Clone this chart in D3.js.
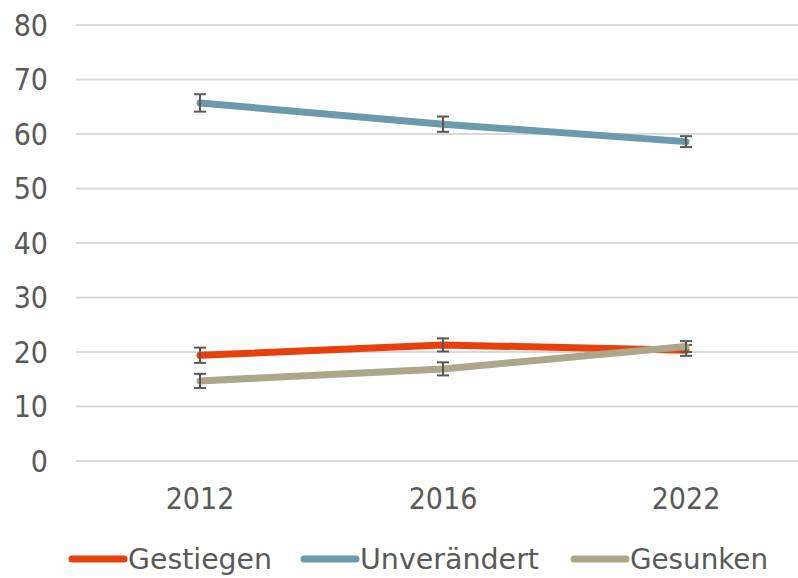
<!DOCTYPE html>
<html>
<head>
<meta charset="utf-8">
<script src="https://cdn.jsdelivr.net/npm/d3@7"></script>
<style>
  body { margin: 0; background: #fff; }
  text { font-family: "DejaVu Sans Condensed", "DejaVu Sans", sans-serif; fill: #595959; }
</style>
</head>
<body>
<script>
var years = ["2012", "2016", "2022"];
var seriesNames = ["Gestiegen", "Unverändert", "Gesunken"];
var gestiegen = [19.4, 21.3, 20.3];
var unveraendert = [65.7, 61.8, 58.6];
var gesunken = [14.7, 16.9, 21.0];
var errGestiegen = [1.4, 1.2, 1.0];
var errUnveraendert = [1.6, 1.4, 1.0];
var errGesunken = [1.3, 1.2, 1.0];
var yTicks = [0, 10, 20, 30, 40, 50, 60, 70, 80];

var colors = ["#E8400C", "#6A9AAB", "#ADA68A"];
var series = [
  {name: seriesNames[0], values: gestiegen, err: errGestiegen, color: colors[0]},
  {name: seriesNames[1], values: unveraendert, err: errUnveraendert, color: colors[1]},
  {name: seriesNames[2], values: gesunken, err: errGesunken, color: colors[2]}
];

var width = 798, height = 578;
var svg = d3.select("body").append("svg")
    .attr("width", width)
    .attr("height", height);

var x = d3.scalePoint()
    .domain(years)
    .range([200, 686]);

var y = d3.scaleLinear()
    .domain([0, 80])
    .range([461, 25]);

// gridlines
svg.append("g")
    .selectAll("line")
    .data(yTicks)
  .enter().append("line")
    .attr("x1", 76)
    .attr("x2", 798)
    .attr("y1", function(d) { return y(d); })
    .attr("y2", function(d) { return y(d); })
    .attr("stroke", "#D9D9D9")
    .attr("stroke-width", 2);

// y labels
svg.append("g")
    .selectAll("text")
    .data(yTicks)
  .enter().append("text")
    .attr("x", 48)
    .attr("y", function(d) { return y(d); })
    .attr("dy", "0.36em")
    .attr("text-anchor", "end")
    .attr("font-size", "30px")
    .text(function(d) { return d; });

// x labels
svg.append("g")
    .selectAll("text")
    .data(years)
  .enter().append("text")
    .attr("x", function(d) { return x(d); })
    .attr("y", 509)
    .attr("text-anchor", "middle")
    .attr("font-size", "30px")
    .text(function(d) { return d; });

var line = d3.line()
    .x(function(d, i) { return x(years[i]); })
    .y(function(d) { return y(d); });

var groups = svg.selectAll(".series")
    .data(series)
  .enter().append("g")
    .attr("class", "series");

groups.append("path")
    .attr("d", function(d) { return line(d.values); })
    .attr("fill", "none")
    .attr("stroke", function(d) { return d.color; })
    .attr("stroke-width", 7)
    .attr("stroke-linecap", "round")
    .attr("stroke-linejoin", "round");

// error bars
groups.each(function(s) {
  var g = d3.select(this);
  s.values.forEach(function(v, i) {
    var cx = x(years[i]);
    var top = y(v + s.err[i]), bot = y(v - s.err[i]);
    g.append("line").attr("x1", cx).attr("x2", cx).attr("y1", top).attr("y2", bot)
      .attr("stroke", "#595959").attr("stroke-width", 2);
    [top, bot].forEach(function(yy) {
      g.append("line").attr("x1", cx - 6).attr("x2", cx + 6).attr("y1", yy).attr("y2", yy)
        .attr("stroke", "#595959").attr("stroke-width", 2);
    });
  });
});

// legend
var legendX = [72, 304, 574];
var legend = svg.selectAll(".legend")
    .data(series)
  .enter().append("g")
    .attr("class", "legend")
    .attr("transform", function(d, i) { return "translate(" + legendX[i] + ",559)"; });

legend.append("line")
    .attr("x1", 0)
    .attr("x2", 52)
    .attr("stroke", function(d) { return d.color; })
    .attr("stroke-width", 7)
    .attr("stroke-linecap", "round");

legend.append("text")
    .attr("x", 56)
    .attr("dy", "0.36em")
    .attr("font-size", "29px")
    .attr("textLength", function(d, i) { return [144, 179, 138][i]; })
    .attr("lengthAdjust", "spacingAndGlyphs")
    .text(function(d) { return d.name; });
</script>
</body>
</html>
